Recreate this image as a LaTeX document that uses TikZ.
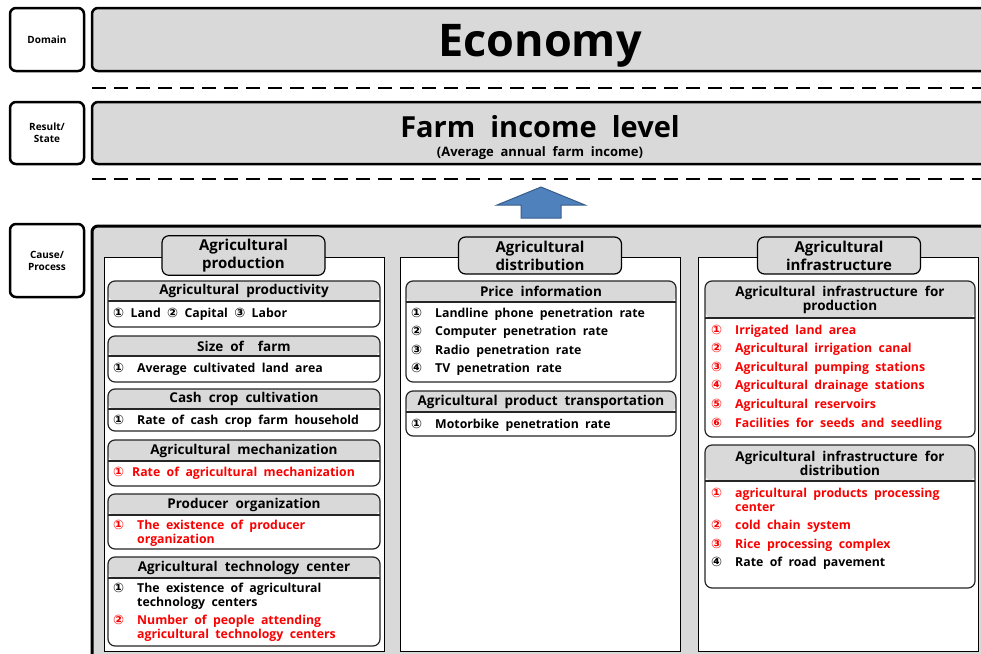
\documentclass[tikz,border=0pt]{standalone}
\usepackage{fontspec}
\setmainfont{Open Sans}[WordSpace=2]
\newfontfamily\circfont{DejaVu Sans}
\usetikzlibrary{positioning}
\definecolor{boxgray}{RGB}{217,217,217}
\definecolor{arrowblue}{RGB}{79,129,189}
\definecolor{arrowedge}{RGB}{56,93,138}
\definecolor{itemred}{RGB}{250,0,0}
\newcommand{\cn}[1]{{\circfont\fontsize{13}{14}\selectfont #1}}
\newcommand{\nr}[1]{\makebox[24pt][l]{\cn{#1}}}
\begin{document}
\begin{tikzpicture}
    [x=1pt,y=-1pt,every node/.style={font=\bfseries},
     sidebox/.style={draw,line width=2.5pt,rounded corners=6pt,fill=white,minimum width=74pt,align=center,font=\bfseries\fontsize{10}{12}\selectfont},
     bigbox/.style={draw,line width=2.5pt,rounded corners=6pt,fill=boxgray,minimum width=898pt},
     colbox/.style={draw,line width=0.8pt,fill=white,minimum width=280pt,minimum height=394pt},
     colhead/.style={draw,line width=1.2pt,rounded corners=7pt,fill=boxgray,minimum width=163pt,minimum height=37pt,align=center,font=\bfseries\fontsize{15}{18}\selectfont},
     subbox/.style={draw=black!85,line width=1.2pt,rounded corners=7pt,fill=white,minimum width=272pt,
       path picture={\fill[boxgray] (path picture bounding box.north west) rectangle ([yshift=-#1]path picture bounding box.north east);
         \draw[black!85,line width=1.2pt] ([yshift=-#1]path picture bounding box.north west) -- ([yshift=-#1]path picture bounding box.north east);}},
     subhead/.style={inner sep=0pt,align=center,font=\bfseries\fontsize{13.5}{14}\selectfont},
     itemlist/.style={anchor=north west,inner sep=0pt,font=\bfseries\fontsize{12.3}{14}\selectfont},
     sepline/.style={line width=2.5pt,dash pattern=on 14pt off 8pt}]
    \useasboundingbox (0,0) rectangle (981,653);
    % left side
    \node[sidebox,minimum height=63pt] (domain) at (47,39.5) {Domain};
    \node[sidebox,minimum height=62pt] (result) at (47,133) {Result/\\State};
    \node[sidebox,minimum height=73pt] (cause) at (47,260.5) {Cause/\\Process};
    % domain and result
    \node[bigbox,minimum height=63pt] (economybox) at (541,39.5) {};
    \node[font=\bfseries\fontsize{45}{45}\selectfont] (economy) at (540,46) {Economy};
    \draw[sepline] (92,88) -- (981,88);
    \node[bigbox,minimum height=62pt] (farmbox) at (541,133) {};
    \node[font=\bfseries\fontsize{29}{30}\selectfont] (farmtitle) at (540,127) {Farm income level};
    \node[font=\bfseries\fontsize{13}{15}\selectfont] (farmsub) at (540,153) {(Average annual farm income)};
    \draw[sepline] (92,179) -- (981,179);
    \filldraw[fill=arrowblue,draw=arrowedge,line width=1pt] (541,187) -- (585,205) -- (561,205) -- (561,218) -- (521,218) -- (521,205) -- (497,205) -- cycle;
    % cause / process
    \node[bigbox,line width=3pt,minimum height=444pt] (process) at (541,448) {};
    \node[colbox] (prodcol) at (244,454) {};
    \node[colbox] (distcol) at (540,454) {};
    \node[colbox] (infracol) at (838,454) {};
    \node[colhead] (prodtitle) at (243.5,255.5) {Agricultural\\production};
    \node[colhead] (disttitle) at (540,255.5) {Agricultural\\distribution};
    \node[colhead] (infratitle) at (839,255.5) {Agricultural\\infrastructure};

    % agricultural production
    \node[subbox=20pt,minimum height=46pt] (prodbox) at (244,304) {};
    \node[subhead] (prodhead) at (244,291) {Agricultural productivity};
    \node[itemlist] (prodlist) at (113,308) {\cn{①} Land \cn{②} Capital \cn{③} Labor};

    \node[subbox=20pt,minimum height=46pt] (sizebox) at (244,359) {};
    \node[subhead] (sizehead) at (244,346) {Size of \ farm};
    \node[itemlist] (sizelist) at (113,362) {\begin{tabular}{@{}l@{}l@{}}
      \nr{①} & Average cultivated land area
    \end{tabular}};

    \node[subbox=20pt,minimum height=42pt] (cashbox) at (244,410) {};
    \node[subhead] (cashhead) at (244,399) {Cash crop cultivation};
    \node[itemlist] (cashlist) at (113,414) {\begin{tabular}{@{}l@{}l@{}}
      \nr{①} & Rate of cash crop farm household
    \end{tabular}};

    \node[subbox=21pt,minimum height=46pt] (mechbox) at (244,463) {};
    \node[subhead] (mechhead) at (244,450.5) {Agricultural mechanization};
    \node[itemlist,text=itemred] (mechlist) at (113,467) {\makebox[19pt][l]{\cn{①}}Rate of agricultural mechanization};

    \node[subbox=21pt,minimum height=55pt] (orgbox) at (244,521.5) {};
    \node[subhead] (orghead) at (244,504.5) {Producer organization};
    \node[itemlist,text=itemred] (orglist) at (113,519) {\begin{tabular}{@{}l@{}l@{}}
      \nr{①} & The existence of producer\\
      & organization
    \end{tabular}};

    \node[subbox=21pt,minimum height=89pt] (techbox) at (244,601.5) {};
    \node[subhead] (techhead) at (244,567.5) {Agricultural technology center};
    \node[itemlist] (techlist) at (113,582) {\begin{tabular}{@{}l@{}l@{}}
      \nr{①} & The existence of agricultural\\
      & technology centers\\[4pt]
      \color{itemred}\nr{②} & \color{itemred}Number of people attending\\
      & \color{itemred}agricultural technology centers
    \end{tabular}};

    % agricultural distribution
    \node[subbox=21pt,minimum width=270pt,minimum height=101pt] (pricebox) at (541,331.5) {};
    \node[subhead] (pricehead) at (541,291.5) {Price information};
    \node[itemlist] (pricelist) at (411,307) {\begin{tabular}{@{}l@{}l@{}}
      \nr{①} & Landline phone penetration rate\\[4.6pt]
      \nr{②} & Computer penetration rate\\[4.6pt]
      \nr{③} & Radio penetration rate\\[4.6pt]
      \nr{④} & TV penetration rate
    \end{tabular}};

    \node[subbox=21pt,minimum width=270pt,minimum height=45pt] (transbox) at (541,413.5) {};
    \node[subhead] (transhead) at (541,401.5) {Agricultural product transportation};
    \node[itemlist] (translist) at (411,418) {\begin{tabular}{@{}l@{}l@{}}
      \nr{①} & Motorbike penetration rate
    \end{tabular}};

    % agricultural infrastructure
    \node[subbox=37pt,minimum width=270pt,minimum height=156pt] (irribox) at (840,359) {};
    \node[subhead] (irrihead) at (840,299.5) {Agricultural infrastructure for\\production};
    \node[itemlist,text=itemred] (irrilist) at (711,324) {\begin{tabular}{@{}l@{}l@{}}
      \nr{①} & Irrigated land area\\[4.6pt]
      \nr{②} & Agricultural irrigation canal\\[4.6pt]
      \nr{③} & Agricultural pumping stations\\[4.6pt]
      \nr{④} & Agricultural drainage stations\\[4.6pt]
      \nr{⑤} & Agricultural reservoirs\\[4.6pt]
      \nr{⑥} & Facilities for seeds and seedling
    \end{tabular}};

    \node[subbox=36pt,minimum width=270pt,minimum height=143pt] (roadbox) at (840,516.5) {};
    \node[subhead] (roadhead) at (840,463) {Agricultural infrastructure for\\distribution};
    \node[itemlist] (roadlist) at (711,487) {\begin{tabular}{@{}l@{}l@{}}
      \color{itemred}\nr{①} & \color{itemred}agricultural products processing\\
      & \color{itemred}center\\[4.6pt]
      \color{itemred}\nr{②} & \color{itemred}cold chain system\\[4.6pt]
      \color{itemred}\nr{③} & \color{itemred}Rice processing complex\\[4.6pt]
      \nr{④} & Rate of road pavement
    \end{tabular}};
  \end{tikzpicture}
\end{document}
